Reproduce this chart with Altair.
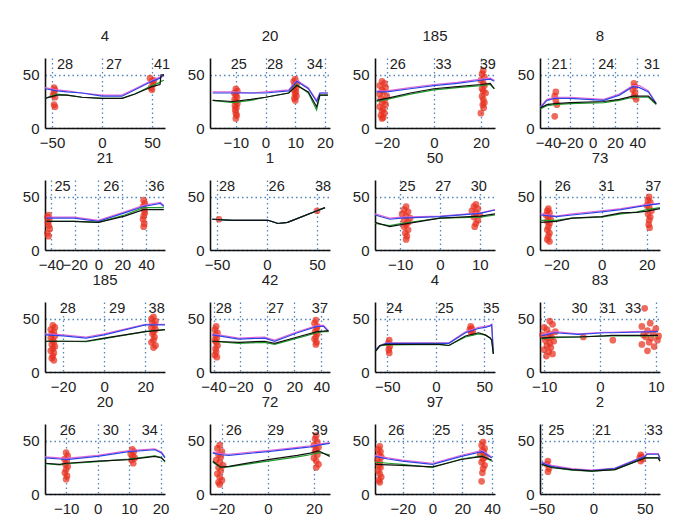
import altair as alt
import pandas as pd

TITLES = ["4", "20", "185", "8", "21", "1", "50", "73", "185", "42", "4", "83", "20", "72", "97", "2"]

X_DOMAINS = [
    [-57, 63], [-18.7, 21.7], [-25, 26], [-47.2, 60.4],
    [-45, 56], [-57, 63], [-16.3, 13.8], [-27.2, 25.8],
    [-28.8, 29.6], [-42.6, 46.5], [-62.7, 61], [-10.75, 10.75],
    [-16.7, 21.4], [-25.2, 27], [-38.7, 42], [-51.7, 64.7],
]

X_TICKS = [
    [-50, 0, 50], [-10, 0, 10, 20], [-20, 0, 20], [-40, -20, 0, 20, 40],
    [-40, -20, 0, 20, 40], [-50, 0, 50], [-10, 0, 10], [-20, 0, 20],
    [-20, 0, 20], [-40, -20, 0, 20, 40], [-50, 0, 50], [-10, 0, 10],
    [-10, 0, 10, 20], [-20, 0, 20], [-20, 0, 20, 40], [-50, 0, 50],
]

LABEL_X = [
    [-45, 4, 52], [-11.7, 0.5, 13.9], [-18.75, 0.7, 19.5], [-37, 5, 46],
    [-37, 4, 42], [-48, 1.6, 48], [-10.2, -1.2, 7.7], [-20.7, -1.4, 19.3],
    [-21.6, 2.4, 21.6], [-38.3, 0.5, 33], [-51, 1.7, 49], [-5.1, 0, 4.5],
    [-12, 1.6, 14], [-18.4, 0, 19], [-30, 1.1, 30], [-43.7, 1.6, 51.7],
]

LABEL_TEXT = [
    ["28", "27", "41"], ["25", "28", "34"], ["26", "33", "39"], ["21", "24", "31"],
    ["25", "26", "36"], ["28", "26", "38"], ["25", "27", "30"], ["26", "31", "37"],
    ["28", "29", "38"], ["28", "27", "37"], ["24", "25", "35"], ["30", "31", "33"],
    ["26", "30", "34"], ["26", "29", "39"], ["26", "25", "35"], ["25", "21", "33"],
]

LINE_X = [
    [-57, -45, -35, -20, 0, 20, 33, 50, 58, 59, 62],
    [-17.8, -11, -5, 0, 7.8, 10.5, 14.4, 17.2, 18.3, 21],
    [-24.3, -20, -10, 0, 10, 20, 24, 25.7],
    [-47, -41, -34, -20, 10, 24, 36, 42, 50, 57],
    [-43.7, -20.5, 0, 22, 38, 52, 55],
    [-54.6, -35, 1, 11, 20.6, 50, 58],
    [-16.3, -12.6, -9.8, 0, 10.1, 13.8],
    [-27, -20, -13, 0, 8.6, 15.7, 20, 25.8],
    [-28.8, -20, -8.8, 0, 20, 29.6],
    [-40.7, -21.3, -2, 5.4, 22.3, 37, 41.7, 45.4],
    [-61.7, -57.7, -51, 3.4, 13.5, 30.5, 44, 50.9, 56, 57.6, 59.3],
    [-10.5, -8.1, -3.9, 0.9, 2.1, 6, 10.4],
    [-16.7, -12, -9.9, 0, 9.9, 18.2, 20.3, 21.4],
    [-24, -20.6, -17, 0, 12.8, 18.4, 22, 26.9],
    [-38.7, -30, -20.4, 0, 19.4, 33.3, 39.8],
    [-50.2, -40.5, -21, -1.6, 21, 50.2, 52, 63, 64.7],
]

BLUE_Y = [
    [37, 35, 34, 33, 30, 30, 36, 44, 47, 48, 50],
    [33, 33, 33, 33, 35, 44, 37, 25, 33, 33],
    [34, 34, 37, 40, 42, 45, 46, 44],
    [19, 26, 28, 28, 26, 31, 39, 38, 34, 23],
    [30, 30, 27, 35, 41, 44, 41],
    [29, 28, 28, 25, 26, 37, 40],
    [33, 29, 30, 31.5, 34.6, 37.7],
    [33, 31.5, 33, 36, 38, 40.7, 42, 43.8],
    [35, 34, 32, 35, 44.5, 44.5],
    [35, 31, 32, 29, 37, 43, 43, 38],
    [21, 24.5, 27, 27, 27, 37, 41, 42, 43.5, 44.5, 18],
    [34, 37, 35.5, 37, 37, 37.5, 38],
    [34, 33, 32.5, 35.5, 40, 41.7, 38.6, 34],
    [38.6, 37, 36.4, 40, 43, 44.5, 46, 47.8],
    [35.5, 33, 31, 28, 35.5, 40, 34],
    [29.3, 26, 23, 22, 24, 35.5, 37.5, 37.5, 33],
]

MAGENTA_Y = [
    [38, 36, 35, 33, 31, 31, 37, 45, 48, 48, 49],
    [34, 34, 33, 34, 36, 45, 38, 26, 33, 33],
    [35, 35, 38, 41, 43, 46, 47, 45],
    [20, 27, 29, 29, 27, 32, 40, 40, 35, 23],
    [31, 31, 28, 36, 42, 45, 42],
    [29, 28, 28, 25, 26, 37, 40],
    [34, 30, 31, 32, 35, 38],
    [34, 32, 34, 37, 39, 41.5, 43, 44],
    [36, 35, 33, 36, 45, 45],
    [36, 32, 33, 30, 38, 44, 44, 39],
    [21.5, 25, 27.5, 27.5, 27.5, 38, 42, 43, 44, 45, 18],
    [35, 38, 36, 37.5, 37.5, 38, 38.5],
    [35, 34, 33.5, 36.5, 41, 42.5, 39.5, 35],
    [39.5, 38, 37.5, 41, 44, 45.5, 47, 48.5],
    [36.5, 34, 32, 29, 36.5, 41, 35],
    [30, 27, 24, 22.5, 24.5, 36, 38, 38, 34],
]

GREEN_Y = [
    [28, 32, 31, 29, 28, 28, 32, 40, 43, 44, 45],
    [26, 24, 26, 29, 33, 41, 33, 17, 31, 31],
    [25, 27, 32, 36, 38, 40, 41, 37],
    [18, 21, 22, 23, 24, 26, 29, 29, 29, 22],
    [27, 27, 26, 33, 40, 40, 40],
    [29, 28, 28, 25, 26, 37, 40],
    [25, 23, 25, 30, 31, 33],
    [28, 28, 30, 31, 34, 36, 38, 40],
    [29, 29, 28.5, 31.5, 38, 40],
    [29, 27, 28, 26, 32, 37, 38, 38],
    [20, 24.5, 25.5, 26, 25, 33, 36, 35, 32, 30, 17],
    [31.5, 32.5, 33, 34, 34, 34, 34],
    [28.5, 27.5, 28.5, 30.5, 33, 36, 34.5, 30],
    [30, 25, 25.5, 31, 35, 37, 39, 37],
    [30, 29, 28, 25, 33, 36, 31],
    [28, 25, 22.5, 21.5, 23, 34, 34, 34, 31],
]

BLACK_Y = [
    [28, 31, 31, 29, 28, 28, 32, 39, 41, 50, 50],
    [26, 25, 27, 29, 33, 40, 34, 20, 31, 31],
    [26, 28, 33, 37, 39, 41, 42, 37],
    [19, 22, 23, 24, 25, 27, 30, 30, 30, 23],
    [27, 27, 26, 32, 38, 38, 38],
    [29, 28, 28, 25, 26, 37, 40],
    [26, 22, 24, 30, 32, 34],
    [26, 27, 30, 31.5, 35, 35.5, 36.7, 39],
    [29, 29, 29, 32, 38, 40],
    [29, 28, 29, 27, 33, 38, 38.5, 39],
    [20, 25, 26, 26, 25, 34, 37, 35, 32, 30, 17],
    [32, 33, 33, 34, 34.5, 34.5, 34.5],
    [29, 28, 29, 31, 32.4, 35.5, 34, 31],
    [31, 25.3, 26, 32.4, 36.5, 38.6, 40.7, 35.5],
    [28, 27.5, 27, 25.5, 32.5, 35.5, 32],
    [28, 25, 23, 21.5, 23, 34, 34, 34, 31],
]

PTS_X = [
    [-48, -47, -49, -47, -48, -47, -48, 48, 50, 51, 49, 50, 52],
    [-10, -9.5, -10.5, -10, -9.6, -10.4, -10, -9.5, -10.3, -9.8, -10.2, -10, -9.7, -10,
     10, 9.5, 10.5, 9.8, 10.3, 9.6, 10.2, 9.9, 10.4, 9.7, 10],
    [-22, -21, -23, -20.5, -22, -21.5, -23, -20, -22.5, -21, -22, -20.5, -23, -21.5, -22, -21, -22.5, -21.5, -22,
     21, 20.5, 21.5, 20, 21, 21.5, 20.5, 21, 22, 20.5, 21, 21.5, 20.8, 21.2, 20],
    [-33, -34, -33, -32, -34, 37, 38, 36, 38, 37, 39],
    [-42, -43, -41.5, -42.5, -42, -41, -43, -42, 38, 39, 37.5, 38.5, 39, 38, 37.5, 38.5, 38],
    [-48, 50],
    [-8.5, -9, -8, -9.5, -8.5, -7.5, -9, -8, -8.5, -9, -8, -8.7, -8.3, -8.5,
     9, 8.5, 9.5, 8, 9, 10, 8.5, 9.5, 9, 8.7],
    [-23.5, -24, -23, -24.5, -23.5, -22.5, -24, -23, -23.5, -24, -23, -23.5, -24, -23,
     21, 20.5, 21.5, 20, 21, 22, 20.5, 21.5, 21, 20.8, 21.2],
    [-25, -24, -26, -24.5, -25.5, -24, -26, -25, -24.5, -25.5, -24, -25, -26, -24.5, -25, -25.5, -24.5,
     24, 23, 25, 23.5, 24.5, 23, 25, 24, 23.5, 24.5, 24, 23, 25, 24],
    [-38, -39, -37, -38.5, -37.5, -39, -38, -37, -38.5, -38, -39, -37.5,
     36, 35, 37, 36.5, 35.5, 37, 36, 35, 36.5, 36],
    [-48, -49, -47.5, -48.5, -48, 36, 37, 35, 38, 36.5],
    [-9, -8.5, -10, -9.5, -8, -9, -10.3, -8.7, -9.3, -9.8, -8.3, -9, -9.5, -8.8, -10, -9.2, -8.5, -9.6,
     -3, 2.3,
     8, 9, 7.5, 10, 8.5, 9.5, 7.8, 10.5, 8.2, 9.2, 10.3, 8.8, 7.5, 9.7, 8.5],
    [-10, -9.5, -10.5, -9.8, -10.2, -9.5, -10, -10.4, -9.7, -10, 11, 11.5, 10.5, 11.2, 11.8, 10.8, 11.3],
    [-21, -22, -20, -21.5, -20.5, -22.5, -21, -19.5, -21.5, -20.5, -22, -21, -20, -21.5, -21,
     21, 20.5, 21.5, 20, 22, 21, 20.5, 21.5, 20, 21, 22, 21],
    [-35.5, -36.5, -35, -36, -34.5, -37, -35.5, -36, -35, -36.5, -35.5, -34.5, -36, -35.5,
     34, 33, 35, 33.5, 34.5, 32, 35.5, 34, 33, 35, 34, 33.5, 33],
    [-44, -45, -43, -44, 46, 47, 45, 48, 46],
]

PTS_Y = [
    [38, 36, 31, 29, 22, 20, 34, 47, 44, 41, 38, 36, 45],
    [37, 35, 33, 31, 29, 27, 25, 23, 21, 19, 17, 14, 12, 9,
     46, 44, 42, 40, 38, 36, 34, 32, 30, 28, 26],
    [44, 42, 40, 38, 36, 34, 32, 30, 28, 26, 24, 22, 20, 18, 16, 14, 12, 10, 9,
     54, 51, 48, 45, 42, 40, 37, 35, 33, 30, 27, 24, 22, 19, 14],
    [34, 30, 26, 22, 11, 42, 39, 36, 33, 30, 27],
    [33, 31, 29, 26, 23, 20, 16, 13, 47, 44, 41, 38, 35, 32, 29, 25, 22],
    [29, 37],
    [41, 38, 36, 34, 32, 30, 28, 26, 24, 22, 19, 16, 13, 10,
     43, 41, 39, 37, 35, 33, 31, 28, 25, 22],
    [39, 37, 35, 33, 31, 29, 27, 25, 22, 19, 16, 13, 10, 8,
     50, 47, 45, 42, 40, 37, 34, 31, 28, 24, 21],
    [44, 42, 40, 38, 36, 34, 32, 30, 28, 26, 24, 22, 20, 18, 15, 13, 11,
     52, 50, 48, 46, 44, 42, 40, 38, 36, 33, 30, 28, 25, 23],
    [43, 40, 37, 35, 32, 30, 28, 25, 22, 19, 16, 14,
     49, 46, 43, 41, 38, 36, 33, 31, 28, 26],
    [30, 27, 24, 21, 18, 43, 41, 40, 38, 37],
    [48, 45, 42, 40, 38, 36, 35, 33, 32, 30, 29, 27, 25, 23, 21, 19, 17, 15,
     33, 30,
     60, 46, 43, 41, 39, 37, 35, 34, 33, 32, 30, 28, 26, 24, 20],
    [39, 36, 33, 31, 28, 26, 23, 20, 17, 14, 42, 40, 38, 36, 34, 32, 29],
    [46, 43, 40, 37, 35, 32, 30, 27, 25, 22, 19, 16, 13, 11, 9,
     55, 52, 49, 46, 44, 42, 40, 37, 34, 31, 28, 25],
    [45, 42, 40, 37, 35, 32, 30, 27, 25, 22, 19, 16, 13, 11,
     49, 46, 43, 41, 39, 37, 35, 33, 30, 27, 24, 20, 12],
    [31, 28, 24, 21, 37, 35, 34, 33, 31],
]

SERIES = [
    ("magenta", MAGENTA_Y, "#e066d6"),
    ("blue", BLUE_Y, "#2e44e6"),
    ("green", GREEN_Y, "#1e9a2a"),
    ("black", BLACK_Y, "#111111"),
]

FONT = "Liberation Sans"
TEXT_COLOR = "#222222"
GRID_COLOR = "#3f78b4"
W, H = 120, 70
Y_DOMAIN = [0, 66]
LABEL_Y = 59.5


def panel(i):
    xs = alt.Scale(domain=X_DOMAINS[i], nice=False, zero=False)
    ys = alt.Scale(domain=Y_DOMAIN, nice=False, zero=False)
    x_axis = alt.Axis(values=X_TICKS[i], grid=True, labelFlush=False, labelPadding=7,
                      labelOverlap=False, tickCount=len(X_TICKS[i]))
    y_axis = alt.Axis(values=[0, 50], grid=True, labelPadding=6, labelOverlap=False)

    def xenc():
        return alt.X("x:Q", scale=xs, axis=x_axis, title=None)

    def yenc():
        return alt.Y("y:Q", scale=ys, axis=y_axis, title=None)

    pts = pd.DataFrame({"x": PTS_X[i], "y": PTS_Y[i]})
    layers = [
        alt.Chart(pts).mark_circle(color="#e8301f", size=45, opacity=0.72).encode(
            x=xenc(), y=yenc()
        )
    ]
    for name, arr, color in SERIES:
        df = pd.DataFrame({"x": LINE_X[i], "y": arr[i]})
        layers.append(
            alt.Chart(df).mark_line(color=color, strokeWidth=1.2).encode(x=xenc(), y=yenc())
        )
    lab = pd.DataFrame({"x": LABEL_X[i], "t": LABEL_TEXT[i]})
    layers.append(
        alt.Chart(lab).mark_text(align="left", baseline="middle", fontSize=14.5, font=FONT,
                                 color=TEXT_COLOR).encode(
            x=xenc(),
            y=alt.datum(LABEL_Y, scale=ys, axis=y_axis),
            text="t:N",
        )
    )
    return alt.layer(*layers).properties(
        width=W, height=H,
        title=alt.TitleParams(TITLES[i], fontSize=15, font=FONT, fontWeight="normal",
                              color=TEXT_COLOR, offset=13, anchor="middle"),
    )


chart = (
    alt.concat(*[panel(i) for i in range(16)], columns=4,
               spacing=alt.RowColnumber(row=52, column=45), bounds="flush")
    .properties(padding={"left": 14, "top": 20, "right": 5, "bottom": 5}, background="white")
    .configure_view(stroke=None)
    .configure_axis(
        labelFont=FONT, labelFontSize=15, labelColor=TEXT_COLOR,
        domainColor="#111111", domainWidth=1.6, ticks=False,
        gridColor=GRID_COLOR, gridDash=[1.5, 3], gridWidth=1.3, gridOpacity=0.9,
    )
)

chart.save("out.html", embed_options={"renderer": "svg", "actions": False})
